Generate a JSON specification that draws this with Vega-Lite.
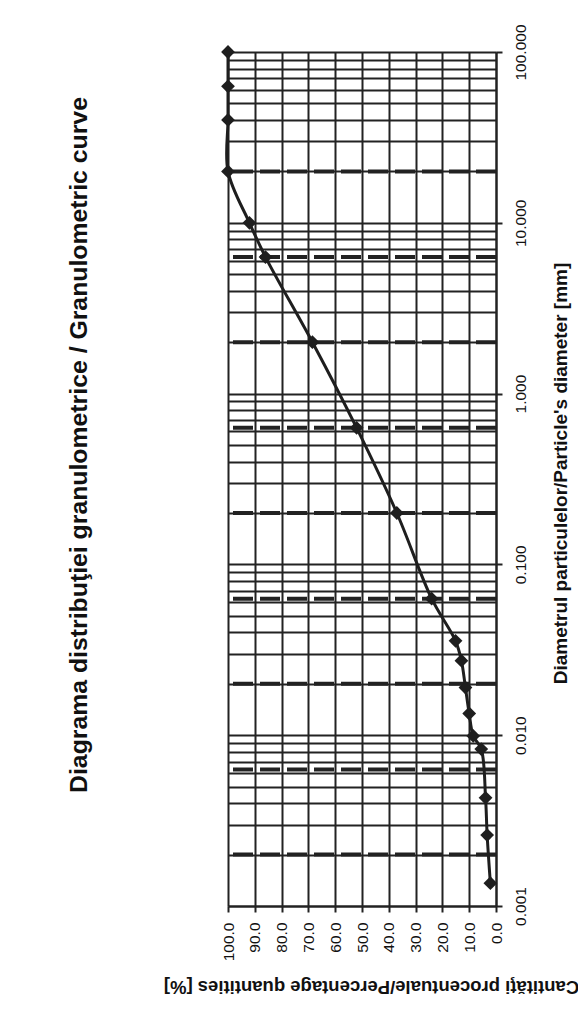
{
  "$schema": "https://vega.github.io/schema/vega-lite/v6.json",
  "width": 268,
  "height": 854,
  "autosize": {"type": "none"},
  "padding": {"left": 228, "top": 52, "right": 82, "bottom": 119},
  "background": "white",
  "config": {
    "view": {"stroke": null},
    "font": "Liberation Sans",
    "axis": {"labelColor": "#111", "titleColor": "#111"}
  },
  "title": {
    "text": "Diagrama distribuţiei granulometrice / Granulometric curve",
    "orient": "left",
    "anchor": "middle",
    "baseline": "bottom",
    "offset": 47,
    "dx": 34,
    "font": "Liberation Sans",
    "fontSize": 24.8,
    "fontWeight": "bold",
    "color": "#111"
  },
  "layer": [
    {
      "data": {
        "values": [
          {"diameter": 20},
          {"diameter": 6.3},
          {"diameter": 2},
          {"diameter": 0.63},
          {"diameter": 0.2},
          {"diameter": 0.063},
          {"diameter": 0.02},
          {"diameter": 0.0063},
          {"diameter": 0.002}
        ]
      },
      "mark": {"type": "rule", "color": "#222", "strokeWidth": 4, "strokeDash": [20, 7]},
      "encoding": {
        "y": {
          "field": "diameter",
          "type": "quantitative",
          "scale": {"type": "log", "domain": [0.001, 100], "nice": false}
        }
      }
    },
    {
      "data": {
        "values": [
          {"diameter": 100, "percent": 100},
          {"diameter": 63, "percent": 100},
          {"diameter": 40, "percent": 100},
          {"diameter": 20, "percent": 100},
          {"diameter": 10, "percent": 92},
          {"diameter": 6.3, "percent": 86},
          {"diameter": 2, "percent": 68.5},
          {"diameter": 0.63, "percent": 52},
          {"diameter": 0.2, "percent": 37},
          {"diameter": 0.063, "percent": 24},
          {"diameter": 0.0357, "percent": 15.1},
          {"diameter": 0.0273, "percent": 12.9},
          {"diameter": 0.019, "percent": 11.4},
          {"diameter": 0.0134, "percent": 10},
          {"diameter": 0.0099, "percent": 8.5},
          {"diameter": 0.0083, "percent": 5.5},
          {"diameter": 0.0043, "percent": 3.9},
          {"diameter": 0.0026, "percent": 3.3},
          {"diameter": 0.00136, "percent": 2.1}
        ]
      },
      "encoding": {
        "x": {
          "field": "percent",
          "type": "quantitative",
          "scale": {"domain": [0, 100], "reverse": true, "nice": false},
          "axis": {
            "orient": "bottom",
            "values": [0, 10, 20, 30, 40, 50, 60, 70, 80, 90, 100],
            "format": ".1f",
            "labelAngle": -90,
            "labelAlign": "right",
            "labelBaseline": "middle",
            "labelOverlap": false,
            "labelFontSize": 15.5,
            "labelPadding": 10,
            "tickSize": 6,
            "tickWidth": 2,
            "tickColor": "#222",
            "domainColor": "#222",
            "domainWidth": 2,
            "grid": true,
            "gridColor": "#222",
            "gridWidth": 2,
            "gridOpacity": 1,
            "title": "Cantităţi procentuale/Percentage quantities [%]",
            "titleAngle": 180,
            "titleBaseline": "bottom",
            "titleAlign": "center",
            "titleX": 143,
            "titleY": 70,
            "titleFontSize": 18.5,
            "titleFontWeight": "bold"
          }
        },
        "y": {
          "field": "diameter",
          "type": "quantitative",
          "scale": {"type": "log", "domain": [0.001, 100], "nice": false},
          "axis": {
            "orient": "right",
            "values": [0.001, 0.002, 0.003, 0.004, 0.005, 0.006, 0.007, 0.008, 0.009,
                       0.01, 0.02, 0.03, 0.04, 0.05, 0.06, 0.07, 0.08, 0.09,
                       0.1, 0.2, 0.3, 0.4, 0.5, 0.6, 0.7, 0.8, 0.9,
                       1, 2, 3, 4, 5, 6, 7, 8, 9,
                       10, 20, 30, 40, 50, 60, 70, 80, 90, 100],
            "labelExpr": "abs(log(datum.value) / LN10 - round(log(datum.value) / LN10)) < 0.001 ? format(datum.value, '.3f') : ''",
            "labelAngle": -90,
            "labelAlign": "center",
            "labelBaseline": "top",
            "labelOverlap": false,
            "labelFontSize": 15.5,
            "labelPadding": 11,
            "tickSize": 6,
            "tickWidth": 2,
            "tickColor": "#222",
            "tickOpacity": {
              "condition": {"test": "abs(log(datum.value) / LN10 - round(log(datum.value) / LN10)) < 0.001", "value": 1},
              "value": 0
            },
            "domainColor": "#222",
            "domainWidth": 2,
            "grid": true,
            "gridColor": "#222",
            "gridWidth": 1.8,
            "gridOpacity": 1,
            "title": "Diametrul particulelor/Particle's diameter [mm]",
            "titleAngle": -90,
            "titleBaseline": "top",
            "titleAlign": "center",
            "titleX": 55,
            "titleY": 421,
            "titleFontSize": 19,
            "titleFontWeight": "bold"
          }
        },
        "order": {"field": "diameter", "type": "quantitative"}
      },
      "layer": [
        {"mark": {"type": "line", "color": "#1e1e1e", "strokeWidth": 3, "interpolate": "catmull-rom"}},
        {"mark": {"type": "point", "shape": "diamond", "filled": true, "size": 190, "color": "#1e1e1e", "opacity": 1}}
      ]
    }
  ]
}
